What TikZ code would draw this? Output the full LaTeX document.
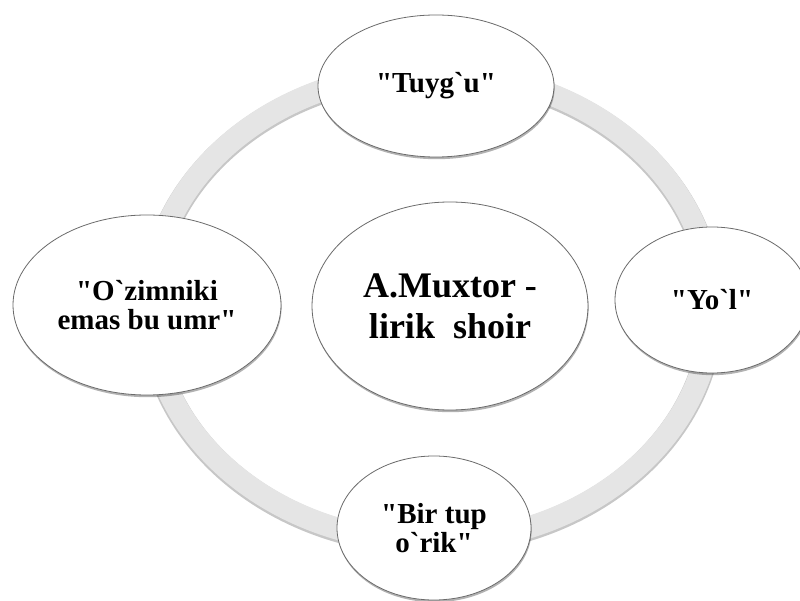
\documentclass[tikz,border=0pt]{standalone}
\usepackage{fontspec}
\newfontfamily\tnr{Liberation Serif}
\usetikzlibrary{shapes.geometric,shadows}
\begin{document}
\begin{tikzpicture}[x=1pt,y=-1pt,
  bubble/.style={ellipse, draw=black!58, line width=0.8pt, fill=white,
    inner sep=0pt, align=center, text=black,
    font=\tnr\bfseries\fontsize{29}{29.5}\selectfont,
    drop shadow={shadow xshift=0.6pt, shadow yshift=-2.2pt, fill=black, opacity=0.3}},
  bigbubble/.style={bubble, font=\tnr\bfseries\fontsize{36}{41}\selectfont},
  ringshade/.style={line width=24pt, black!40, opacity=0.55},
  ringband/.style={line width=22pt, black!10}
]
\clip (0,0) rectangle (800,601);
\fill[white] (0,0) rectangle (800,601);
% ring
\draw[ringshade] (431,308.5) ellipse [x radius=281, y radius=235];
\draw[ringband] (431,307) ellipse [x radius=281, y radius=235];
% nodes
\node[bubble, minimum width=236, minimum height=142] (tuygu) at (436,86) {"Tuyg`u"};
\node[bubble, minimum width=268, minimum height=180] (ozim) at (147,305) {"O`zimniki\\emas bu umr"};
\node[bubble, minimum width=194, minimum height=146] (yol) at (712,300) {"Yo`l"};
\node[bubble, minimum width=194, minimum height=144] (orik) at (434,528) {"Bir tup\\o`rik"};
\node[bigbubble, minimum width=276, minimum height=208] (main) at (450,306) {A.Muxtor -\\lirik\ \ shoir};
\end{tikzpicture}
\end{document}
